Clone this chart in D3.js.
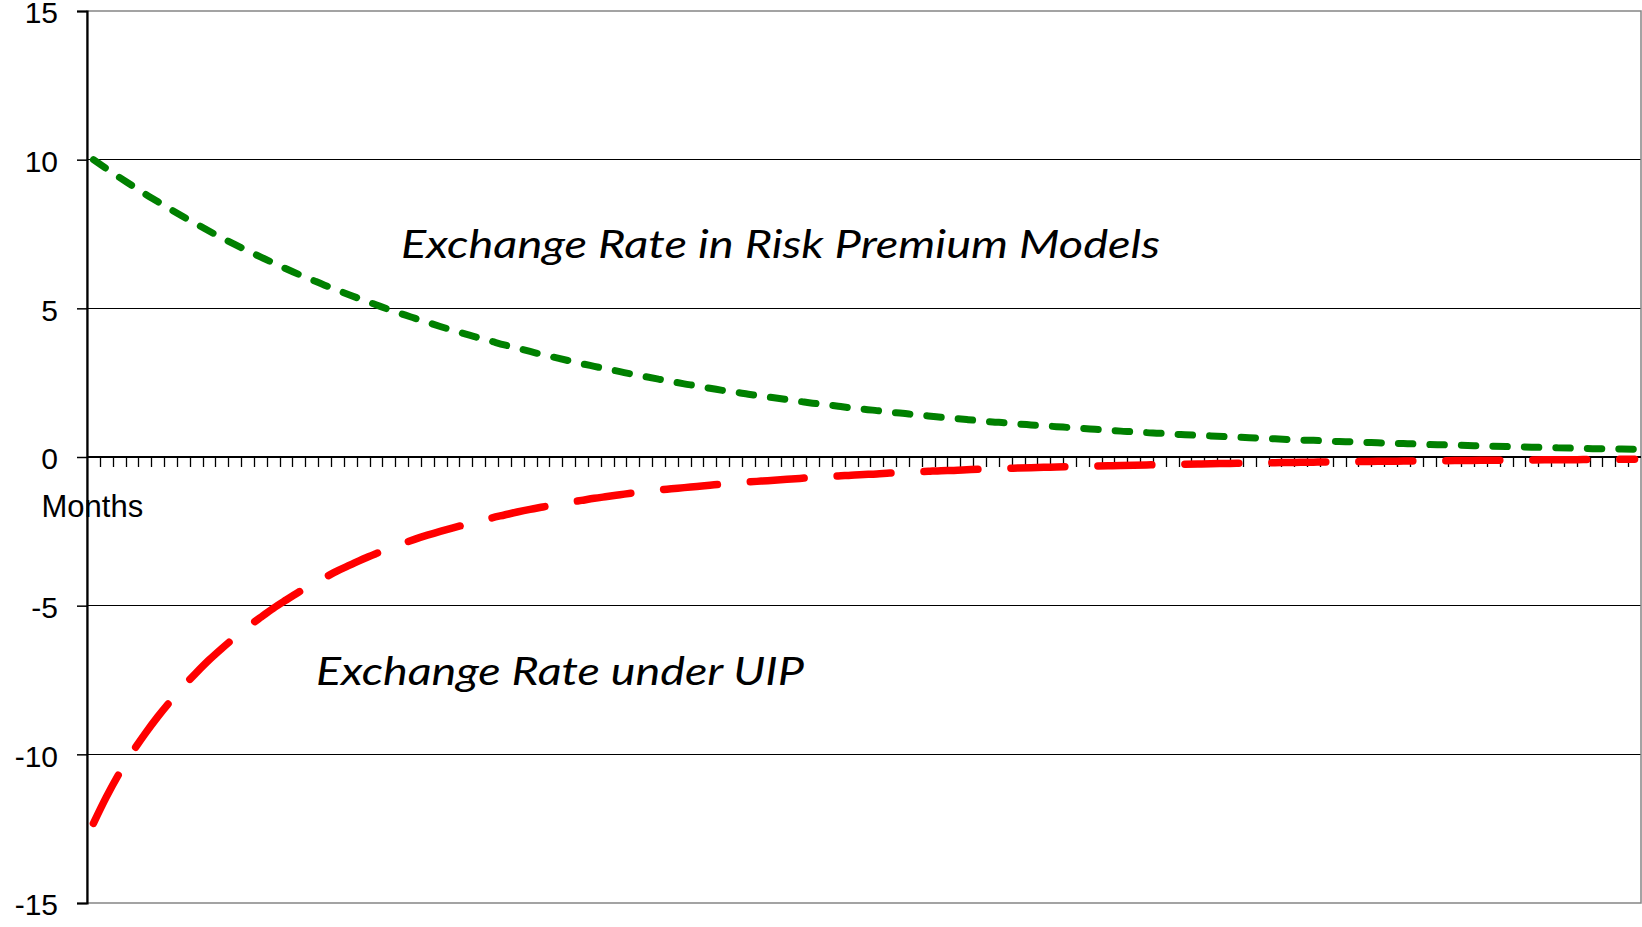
<!DOCTYPE html>
<html>
<head>
<meta charset="utf-8">
<script src="https://cdn.jsdelivr.net/npm/d3@7/dist/d3.min.js"></script>
<style>
  html, body { margin: 0; padding: 0; background: #ffffff; }
  svg { display: block; }
</style>
</head>
<body>
<svg id="chart" width="1642" height="927"></svg>
<script>
// Months after the shock (0..120)
const months = d3.range(0, 121);

// Exchange rate path in risk premium models (green)
const riskPremium = [
  10.00, 9.70, 9.41, 9.13, 8.85, 8.59, 8.33, 8.08, 7.84, 7.60,
  7.37, 7.15, 6.94, 6.73, 6.53, 6.33, 6.14, 5.96, 5.78, 5.61,
  5.44, 5.28, 5.12, 4.96, 4.81, 4.67, 4.53, 4.39, 4.26, 4.13,
  4.01, 3.89, 3.77, 3.66, 3.55, 3.44, 3.34, 3.24, 3.14, 3.05,
  2.96, 2.87, 2.78, 2.70, 2.62, 2.54, 2.46, 2.39, 2.31, 2.24,
  2.18, 2.11, 2.05, 1.99, 1.93, 1.87, 1.81, 1.76, 1.71, 1.65,
  1.61, 1.56, 1.51, 1.47, 1.42, 1.38, 1.34, 1.30, 1.26, 1.22,
  1.18, 1.15, 1.11, 1.08, 1.05, 1.02, 0.99, 0.96, 0.93, 0.90,
  0.87, 0.85, 0.82, 0.80, 0.77, 0.75, 0.73, 0.71, 0.69, 0.67,
  0.65, 0.63, 0.61, 0.59, 0.57, 0.56, 0.54, 0.52, 0.51, 0.49,
  0.48, 0.46, 0.45, 0.44, 0.42, 0.41, 0.40, 0.39, 0.37, 0.36,
  0.35, 0.34, 0.33, 0.32, 0.31, 0.30, 0.29, 0.28, 0.28, 0.27,
  0.26
];

// Exchange rate path under uncovered interest parity (red)
const uip = [
  -12.32, -11.44, -10.65, -9.95, -9.32, -8.74, -8.21, -7.71, -7.26, -6.83,
  -6.44, -6.07, -5.72, -5.40, -5.09, -4.81, -4.54, -4.29, -4.06, -3.83,
  -3.63, -3.43, -3.25, -3.08, -2.92, -2.77, -2.63, -2.50, -2.38, -2.27,
  -2.16, -2.05, -1.95, -1.85, -1.76, -1.68, -1.60, -1.53, -1.46, -1.39,
  -1.33, -1.27, -1.21, -1.16, -1.11, -1.07, -1.03, -0.99, -0.95, -0.91,
  -0.88, -0.84, -0.81, -0.78, -0.75, -0.72, -0.69, -0.66, -0.64, -0.61,
  -0.59, -0.57, -0.54, -0.52, -0.50, -0.48, -0.46, -0.45, -0.43, -0.41,
  -0.397, -0.384, -0.371, -0.359, -0.348, -0.336, -0.325, -0.315, -0.305, -0.295,
  -0.285, -0.276, -0.267, -0.258, -0.250, -0.242, -0.234, -0.226, -0.219, -0.212,
  -0.205, -0.198, -0.192, -0.186, -0.180, -0.174, -0.168, -0.163, -0.157, -0.152,
  -0.147, -0.143, -0.138, -0.134, -0.129, -0.125, -0.121, -0.117, -0.113, -0.110,
  -0.106, -0.103, -0.099, -0.096, -0.093, -0.090, -0.087, -0.084, -0.081, -0.079,
  -0.076
];

const yTicks = [-15, -10, -5, 0, 5, 10, 15];
const xTitle = "Months";
const labelRisk = "Exchange Rate in Risk Premium Models";
const labelUip = "Exchange Rate under UIP";

const svg = d3.select("#chart");
const plotLeft = 87, plotRight = 1641, plotTop = 11, plotBottom = 903;

const xBand = d3.scaleBand().domain(months).range([plotLeft, plotRight]).padding(0);
const xPt = d3.scalePoint().domain(months).range([plotLeft, plotRight]).padding(0.5);
const y = d3.scaleLinear().domain([-15, 15]).range([plotBottom, plotTop]);

svg.append("rect").attr("width", 1642).attr("height", 927).attr("fill", "#fff");

// Horizontal gridlines
svg.append("g")
  .selectAll("line")
  .data(yTicks.filter(v => v !== 0 && Math.abs(v) !== 15))
  .join("line")
  .attr("x1", plotLeft).attr("x2", plotRight)
  .attr("y1", d => y(d)).attr("y2", d => y(d))
  .attr("stroke", "#000").attr("stroke-width", 1.2)
  .attr("shape-rendering", "crispEdges");

// Plot area frame
svg.append("rect")
  .attr("x", plotLeft).attr("y", y(15))
  .attr("width", plotRight - plotLeft).attr("height", y(-15) - y(15))
  .attr("fill", "none").attr("stroke", "#858585").attr("stroke-width", 1.5);

// Value axis
const yAxis = svg.append("g")
  .attr("transform", `translate(${plotLeft},0)`)
  .call(d3.axisLeft(y).tickValues(yTicks).tickSize(10).tickPadding(19).tickFormat(d3.format("d")));
yAxis.select(".domain").attr("stroke", "#000").attr("stroke-width", 2.2);
yAxis.selectAll(".tick line").attr("stroke", "#000").attr("stroke-width", 1.5);
yAxis.selectAll(".tick text")
  .attr("font-family", "'Liberation Sans', Arial, sans-serif")
  .attr("font-size", 30).attr("fill", "#000").attr("dy", "0.39em");
yAxis.selectAll(".tick text").filter(d => d < 0).text(d => "-" + Math.abs(d));

// Category axis along zero, with ticks between months
const xAxisG = svg.append("g");
xAxisG.append("g")
  .selectAll("line")
  .data(months.slice(1))
  .join("line")
  .attr("x1", d => Math.round(xBand(d)) + 0.5).attr("x2", d => Math.round(xBand(d)) + 0.5)
  .attr("y1", y(0)).attr("y2", y(0) + 10)
  .attr("stroke", "#000").attr("stroke-width", 1.3);
xAxisG.append("line")
  .attr("x1", plotLeft).attr("x2", plotRight)
  .attr("y1", y(0)).attr("y2", y(0))
  .attr("stroke", "#000").attr("stroke-width", 2.2);

svg.append("text")
  .attr("x", 41.5).attr("y", 517)
  .attr("font-family", "'Liberation Sans', Arial, sans-serif")
  .attr("font-size", 31).attr("fill", "#000")
  .text(xTitle);

// Series
const line = d3.line().x((d, i) => xPt(months[i])).y(d => y(d)).curve(d3.curveMonotoneX);

svg.append("path")
  .datum(riskPremium)
  .attr("d", line)
  .attr("fill", "none").attr("stroke", "#008000")
  .attr("stroke-width", 7).attr("stroke-linecap", "round")
  .attr("stroke-dasharray", "14.5,17");

svg.append("path")
  .datum(uip)
  .attr("d", line)
  .attr("fill", "none").attr("stroke", "#ff0000")
  .attr("stroke-width", 7.5).attr("stroke-linecap", "round")
  .attr("stroke-dasharray", "54,33");

// Annotations
function note(txt, x, yb, width) {
  svg.append("text")
    .attr("x", x).attr("y", yb)
    .attr("font-family", "Lato, 'Open Sans', sans-serif")
    .attr("font-style", "italic")
    .attr("font-size", 39).attr("fill", "#000")
    .attr("textLength", width).attr("lengthAdjust", "spacingAndGlyphs")
    .text(txt);
}
note(labelRisk, 401, 258, 759);
note(labelUip, 316, 685, 488);
</script>
</body>
</html>
